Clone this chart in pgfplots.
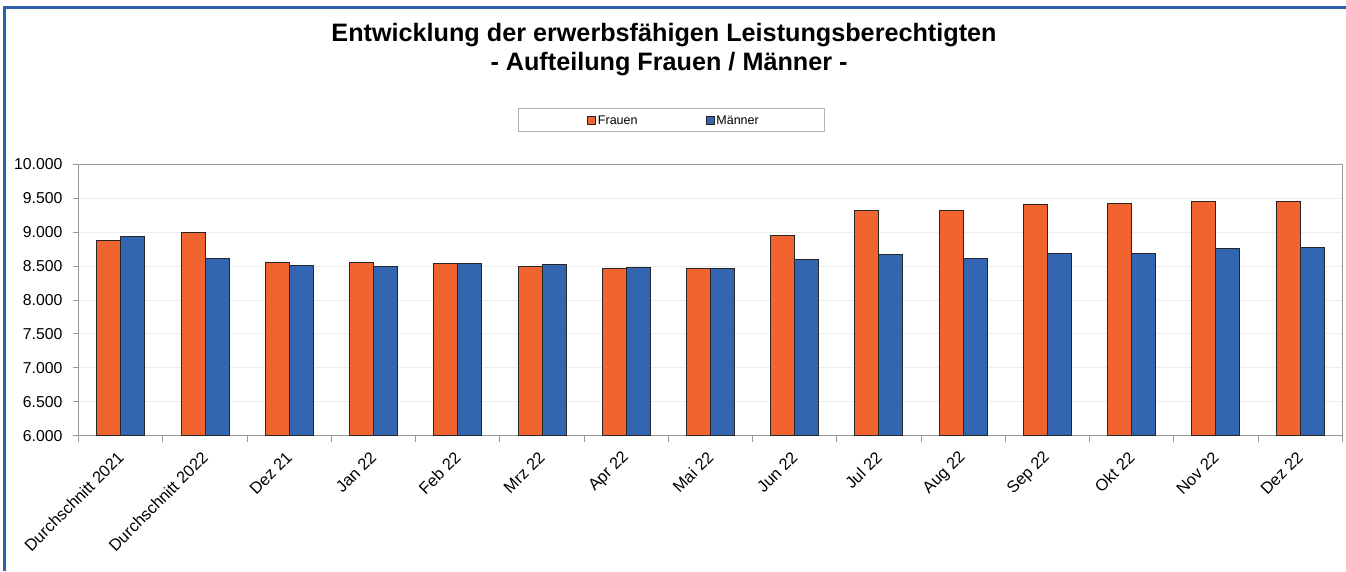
\documentclass[border=0pt]{standalone}
\usepackage{fontspec}
\setmainfont{Liberation Sans}
\usepackage{pgfplots}
\pgfplotsset{compat=1.18}
\definecolor{cF}{RGB}{241,100,47}
\definecolor{cM}{RGB}{51,102,176}
\definecolor{brd}{RGB}{46,96,172}
\pgfplotstableread{
x F M
0 8880 8939
1 8992 8609
2 8560 8511
3 8556 8491
4 8535 8531
5 8497 8516
6 8461 8486
7 8467 8461
8 8958 8590
9 9326 8668
10 9316 8615
11 9410 8688
12 9415 8678
13 9459 8752
14 9449 8771
}\datatable
\begin{document}
\begin{tikzpicture}[x=1pt,y=1pt]
\useasboundingbox (0,0) rectangle (1346,571);
\fill[white] (0,0) rectangle (1346,571);
\draw[brd, line width=3pt] (4.5,0) -- (4.5,563.5) -- (1346,563.5);
\node[font=\bfseries\fontsize{25.2}{28}\selectfont, anchor=base, inner sep=0pt] at (664,529.3) {Entwicklung der erwerbsfähigen Leistungsberechtigten};
\node[font=\bfseries\fontsize{25.2}{28}\selectfont, anchor=base, inner sep=0pt] at (669,500) {- Aufteilung Frauen / Männer -};
\draw[gray!60, line width=1pt] (518,462) rectangle (824,439);
\begin{axis}[
  at={(78.7pt,135.3pt)}, anchor=south west,
  scale only axis, width=1263.6pt, height=271.4pt,
  ybar=0pt, bar width=24pt,
  xmin=-0.5, xmax=14.5, ymin=6000, ymax=10000,
  ytick={6000,6500,...,10000},
  scaled y ticks=false,
  xtick={0,...,14},
  xticklabels={Durchschnitt 2021,Durchschnitt 2022,Dez 21,Jan 22,Feb 22,Mrz 22,Apr 22,Mai 22,Jun 22,Jul 22,Aug 22,Sep 22,Okt 22,Nov 22,Dez 22},
  minor xtick={-0.5,0.5,...,14.5},
  every major x tick/.append style={draw=none},
  tick align=outside, tick pos=left,
  major tick length=6pt, minor tick length=6pt,
  every tick/.append style={gray!80, line width=1pt},
  ymajorgrids, major grid style={color=gray!14, line width=1pt},
  axis line style={gray!80, line width=1pt},
  tick label style={font=\fontsize{15.8}{18}\selectfont, inner sep=0pt},
  yticklabel style={anchor=east, xshift=-10pt},
  xticklabel style={font=\fontsize{16.4}{18}\selectfont, xshift=0pt, yshift=-13pt, rotate=45, anchor=east},
  yticklabel={\pgfmathprintnumber[fixed, precision=0, 1000 sep={.}, assume math mode=true]{\tick}},
  legend columns=2,
  legend style={draw=none, fill=none, at={(0.4711,1)}, anchor=center, yshift=43.8pt,
    font=\fontsize{12.5}{14}\selectfont,
    /tikz/every even column/.append style={column sep=66pt}},
  legend image code/.code={\draw[#1, line width=0.8pt] (0pt,-4pt) rectangle (8pt,4pt);},
]
\addplot[fill=cF, draw=black!85, line width=1pt] table[x=x,y=F] {\datatable};
\addplot[fill=cM, draw=black!85, line width=1pt] table[x=x,y=M] {\datatable};
\legend{Frauen,Männer}
\end{axis}
\end{tikzpicture}
\end{document}
